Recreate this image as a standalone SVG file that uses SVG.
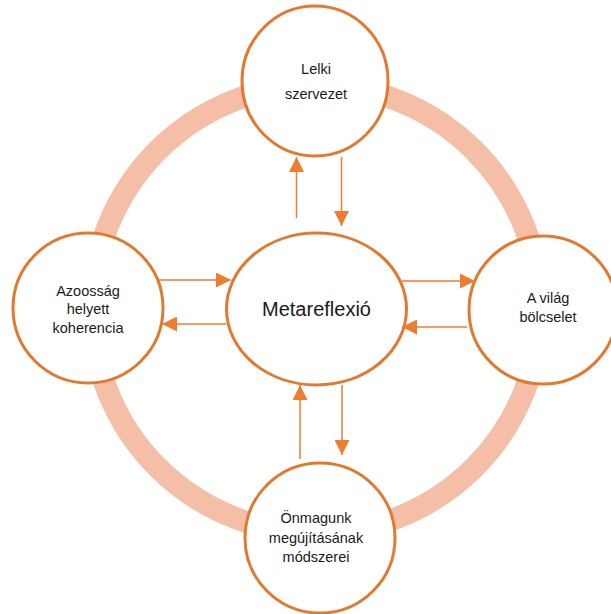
<svg xmlns="http://www.w3.org/2000/svg" width="611" height="614" viewBox="0 0 611 614">
  <style>
    .node { fill: #ffffff; stroke: #E2792F; stroke-width: 3; }
    .lbl { font-family: "Liberation Sans", Arial, sans-serif; font-size: 14.5px; fill: #1a1a1a; text-anchor: middle; }
    .big { font-size: 20px; }
    .conn { stroke: #ED7D31; stroke-width: 1.5; fill: none; marker-end: url(#head); }
  </style>
  <defs>
    <marker id="head" viewBox="0 0 10 10" refX="10" refY="5" markerUnits="userSpaceOnUse" markerWidth="15" markerHeight="15" orient="auto">
      <path d="M0,0 L10,5 L0,10 Z" fill="#ED7D31"/>
    </marker>
  </defs>

  <!-- background ring -->
  <circle cx="316" cy="309" r="224" fill="none" stroke="#F4BFA6" stroke-width="22"/>

  <g id="node-top">
    <ellipse class="node" cx="315" cy="81" rx="73" ry="75"/>
    <text class="lbl" x="316" y="74">Lelki</text>
    <text class="lbl" x="316" y="99">szervezet</text>
  </g>
  <g id="node-left">
    <circle class="node" cx="88" cy="308" r="75"/>
    <text class="lbl" x="88" y="296">Azoosság</text>
    <text class="lbl" x="88" y="314">helyett</text>
    <text class="lbl" x="88" y="333">koherencia</text>
  </g>
  <g id="node-right">
    <circle class="node" cx="543" cy="310" r="74"/>
    <text class="lbl" x="548" y="303">A világ</text>
    <text class="lbl" x="548" y="322">bölcselet</text>
  </g>
  <g id="node-bottom">
    <circle class="node" cx="320" cy="538" r="75"/>
    <text class="lbl" x="316" y="523">Önmagunk</text>
    <text class="lbl" x="316" y="543">megújításának</text>
    <text class="lbl" x="316" y="562">módszerei</text>
  </g>
  <g id="node-center">
    <ellipse class="node" cx="316.5" cy="309" rx="90" ry="76"/>
    <text class="lbl big" x="316.5" y="316">Metareflexió</text>
  </g>

  <g id="connectors">
    <line class="conn" x1="296.5" y1="218" x2="296.5" y2="157"/>
    <line class="conn" x1="341.5" y1="157" x2="341.5" y2="226"/>
    <line class="conn" x1="158" y1="280" x2="231" y2="280"/>
    <line class="conn" x1="226" y1="324" x2="162" y2="324"/>
    <line class="conn" x1="402" y1="281" x2="475" y2="281"/>
    <line class="conn" x1="467" y1="327" x2="402" y2="327"/>
    <line class="conn" x1="300" y1="459" x2="300" y2="385"/>
    <line class="conn" x1="342" y1="385" x2="342" y2="455"/>
  </g>
</svg>
